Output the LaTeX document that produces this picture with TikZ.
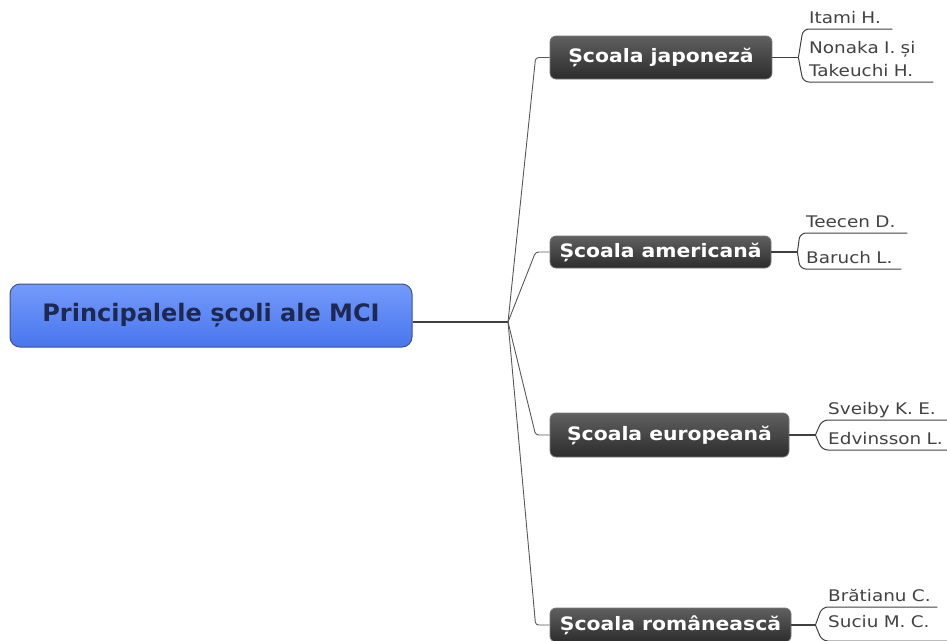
\documentclass[tikz,border=0pt]{standalone}
\usepackage{fontspec}
\setmainfont{DejaVu Sans}
\newfontfamily\rootfont{DejaVu Sans Bold}
\newfontfamily\schoolfont[FakeStretch=1.1]{DejaVu Sans Bold}
\newfontfamily\authorfont[FakeStretch=1.15]{DejaVu Sans}

\definecolor{roottop}{RGB}{116,154,250}
\definecolor{rootbot}{RGB}{72,118,238}
\definecolor{rootedge}{RGB}{62,82,140}
\definecolor{roottext}{RGB}{30,40,80}
\definecolor{boxtop}{RGB}{96,96,96}
\definecolor{boxbot}{RGB}{44,44,44}
\definecolor{boxedge}{RGB}{120,120,120}
\definecolor{linecol}{RGB}{64,64,64}
\definecolor{hubcol}{RGB}{88,88,88}
\definecolor{authortext}{RGB}{66,66,66}

\begin{document}
\begin{tikzpicture}[x=1pt,y=-1pt,
  rootbox/.style={draw=rootedge, line width=1pt, rounded corners=10pt,
    top color=roottop, bottom color=rootbot, inner sep=0pt,
    minimum width=402pt, minimum height=63pt, text=roottext,
    font=\rootfont\fontsize{24}{28}\selectfont},
  schoolbox/.style={draw=boxedge, line width=0.8pt, rounded corners=6pt,
    top color=boxtop, bottom color=boxbot, inner sep=0pt, text=white,
    font=\schoolfont\fontsize{18.5}{22}\selectfont},
  author/.style={anchor=south west, inner xsep=6pt, inner ysep=0pt,
    text depth=5pt, align=left, text=authortext,
    font=\authorfont\fontsize{16}{23}\selectfont},
  link/.style={draw=linecol, line width=1.1pt},
  hublink/.style={draw=hubcol, line width=0.9pt, rounded corners=3pt},
  bracket/.style={draw=linecol, line width=1pt, rounded corners=6pt}
]
\useasboundingbox (0,0) rectangle (947,640);
\clip (0,0) rectangle (947,640);

% central topic and the hub point of its branches
\node[rootbox] (root) at (211,315.5) {Principalele școli ale MCI};
\coordinate (hub) at (508,322);
\draw[link] (root.east |- hub) -- (hub);

% the four schools
\node[schoolbox, minimum width=222pt, minimum height=43pt] (jp) at (661,57.5) {Școala japoneză};
\node[schoolbox, minimum width=221pt, minimum height=32pt] (am) at (660.5,252) {Școala americană};
\node[schoolbox, minimum width=239pt, minimum height=44pt] (eu) at (669.5,435) {Școala europeană};
\node[schoolbox, minimum width=241pt, minimum height=34pt] (ro) at (670.5,625) {Școala românească};

\foreach \b in {jp,am,eu,ro}
  \draw[hublink] (hub) -- ([xshift=-14pt]\b.west) -- (\b.west);

% junctions of the author brackets
\coordinate (jpj) at ([xshift=26pt]jp.east);
\coordinate (amj) at ([xshift=26pt]am.east);
\coordinate (euj) at ([xshift=26pt]eu.east);
\coordinate (roj) at ([xshift=24pt]ro.east);
\draw[link] (jp.east) -- (jpj);
\draw[link] (am.east) -- (amj);
\draw[link] (eu.east) -- (euj);
\draw[link] (ro.east) -- (roj);

% authors, each standing on its own underline
\node[author, text width=77pt]  (itami)   at (803,29)  {Itami H.};
\node[author, text width=118pt, text depth=28pt] (nonaka) at (803,82) {Nonaka I. și\\Takeuchi H.};
\node[author, text width=95pt]  (teecen)  at (800,233) {Teecen D.};
\node[author, text width=89pt]  (baruch)  at (800,269) {Baruch L.};
\node[author, text width=118pt] (sveiby)  at (822,420) {Sveiby K. E.};
\node[author, text width=118pt] (edvins)  at (822,450) {Edvinsson L.};
\node[author, text width=103pt] (bratianu) at (822,607) {Brătianu C.};
\node[author, text width=118pt, text depth=13pt] (suciu) at (822,641) {Suciu M. C.};

\foreach \j/\a in {jpj/itami, jpj/nonaka, amj/teecen, amj/baruch,
                   euj/sveiby, euj/edvins, roj/bratianu, roj/suciu}
  \draw[bracket] (\j) -- (\a.south west) -- (\a.south east);
\end{tikzpicture}
\end{document}
